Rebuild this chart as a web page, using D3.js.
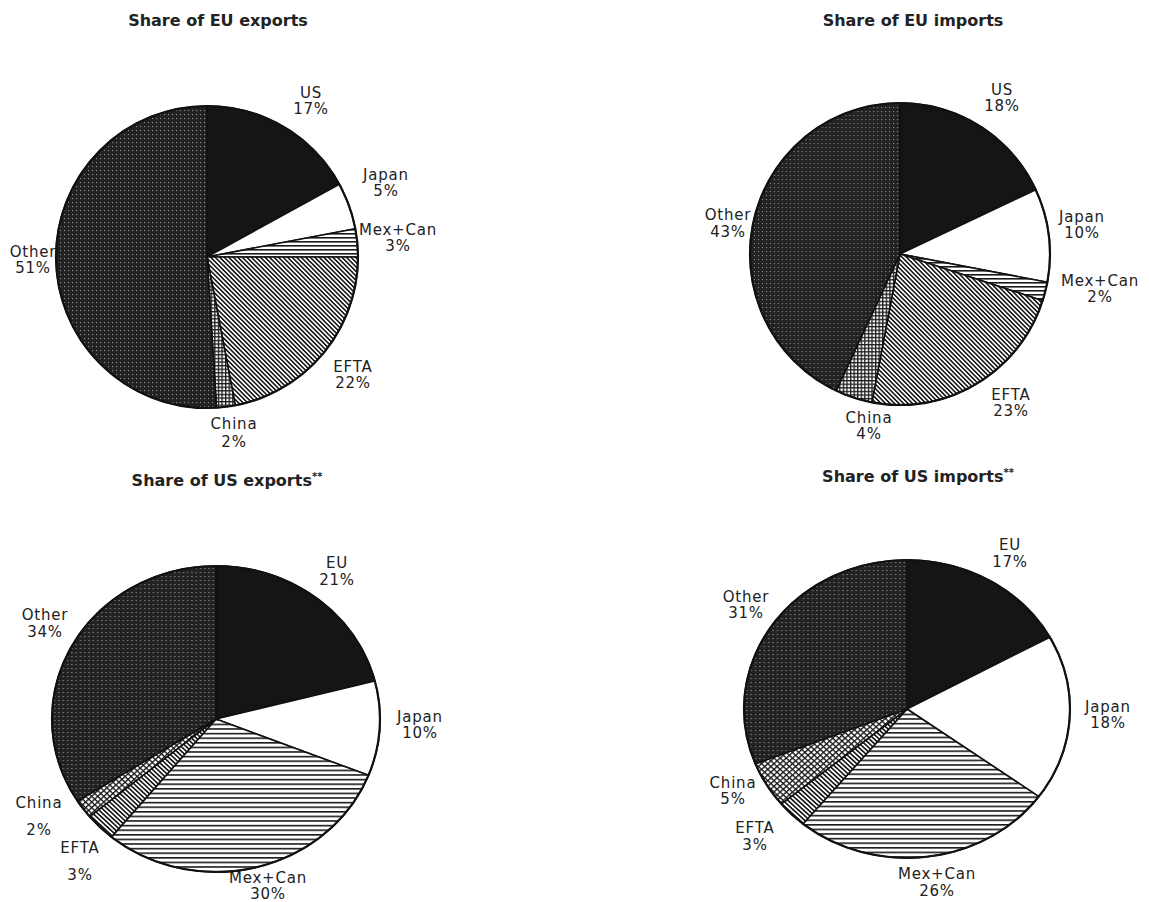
<!DOCTYPE html>
<html>
<head>
<meta charset="utf-8">
<script src="https://cdn.jsdelivr.net/npm/d3@7"></script>
<style>
  body { margin: 0; background: #fff; }
  text { font-family: "DejaVu Sans", sans-serif; fill: #222; }
  .title { font-weight: bold; font-size: 16px; }
  .lbl { font-size: 15px; letter-spacing: 0.8px; }
</style>
</head>
<body>
<svg id="chart" width="1149" height="902"></svg>
<script>
// trade shares, %
var euPartners = ['US', 'Japan', 'Mex+Can', 'EFTA', 'China', 'Other'];
var usPartners = ['EU', 'Japan', 'Mex+Can', 'EFTA', 'China', 'Other'];
var euExports = [17, 5, 3, 22, 2, 51];
var euImports = [18, 10, 2, 23, 4, 43];
var usExports = [21, 10, 30, 3, 2, 34];
var usImports = [17, 18, 26, 3, 5, 31];
var titles = ['Share of EU exports', 'Share of EU imports', 'Share of US exports', 'Share of US imports'];
var starred = [false, false, true, true];

// layout: centre, radii, title spot, label offsets [dx, dy, gap] from centre
var panels = [
  { names: euPartners, values: euExports, cx: 207, cy: 257, rx: 151, ry: 151, tx: 218, ty: 26, china: 'grid', hl: 4,
    offs: [[104, -159, 16], [179, -77, 16], [191, -22, 16], [146, 115, 16], [27, 172, 18], [-174, 0, 16]] },
  { names: euPartners, values: euImports, cx: 900, cy: 254, rx: 150, ry: 151, tx: 913, ty: 26, china: 'grid', hl: 4,
    offs: [[102, -159, 16], [182, -32, 16], [200, 32, 16], [111, 146, 16], [-31, 169, 16], [-172, -34, 17]] },
  { names: usPartners, values: usExports, cx: 216, cy: 719, rx: 164, ry: 153, tx: 227, ty: 486, china: 'diamond', hl: 4.6,
    offs: [[121, -151, 17], [204, 3, 16], [52, 164, 16], [-136, 134, 27], [-177, 89, 27], [-171, -99, 17]] },
  { names: usPartners, values: usImports, cx: 907, cy: 709, rx: 163, ry: 149, tx: 918, ty: 482, china: 'diamond', hl: 4.6,
    offs: [[103, -159, 17], [201, 3, 16], [30, 170, 17], [-152, 124, 17], [-174, 79, 16], [-161, -107, 16]] }
];

var svg = d3.select('#chart');
var defs = svg.append('defs');

// fill patterns imitating the old printer hatching
var p = defs.append('pattern').attr('id', 'dots').attr('patternUnits', 'userSpaceOnUse')
  .attr('width', 4).attr('height', 4);
p.append('rect').attr('width', 4).attr('height', 4).attr('fill', '#222');
p.append('rect').attr('x', 1).attr('y', 1).attr('width', 1.1).attr('height', 1.1).attr('fill', '#8c8c8c');

[4, 4.6].forEach(function(s) {
  var h = defs.append('pattern').attr('id', 'hlines' + s).attr('patternUnits', 'userSpaceOnUse')
    .attr('width', s).attr('height', s);
  h.append('rect').attr('width', s).attr('height', s).attr('fill', '#fff');
  h.append('rect').attr('width', s).attr('height', 1.6).attr('fill', '#1a1a1a');
});

p = defs.append('pattern').attr('id', 'diag').attr('patternUnits', 'userSpaceOnUse')
  .attr('width', 3.2).attr('height', 3.2).attr('patternTransform', 'rotate(45)');
p.append('rect').attr('width', 3.2).attr('height', 3.2).attr('fill', '#fff');
p.append('rect').attr('width', 3.2).attr('height', 1.6).attr('fill', '#1a1a1a');

p = defs.append('pattern').attr('id', 'grid').attr('patternUnits', 'userSpaceOnUse')
  .attr('width', 3.6).attr('height', 3.6);
p.append('rect').attr('width', 3.6).attr('height', 3.6).attr('fill', '#fff');
p.append('rect').attr('width', 3.6).attr('height', 1.3).attr('fill', '#1a1a1a');
p.append('rect').attr('width', 1.3).attr('height', 3.6).attr('fill', '#1a1a1a');

p = defs.append('pattern').attr('id', 'diamond').attr('patternUnits', 'userSpaceOnUse')
  .attr('width', 4).attr('height', 4).attr('patternTransform', 'rotate(45)');
p.append('rect').attr('width', 4).attr('height', 4).attr('fill', '#fff');
p.append('rect').attr('width', 4).attr('height', 1.3).attr('fill', '#1a1a1a');
p.append('rect').attr('width', 1.3).attr('height', 4).attr('fill', '#1a1a1a');

var pie = d3.pie().sort(null).value(function(d) { return d; });

panels.forEach(function(pn, i) {
  var fills = ['#151515', '#fff', 'url(#hlines' + pn.hl + ')', 'url(#diag)', 'url(#' + pn.china + ')', 'url(#dots)'];

  var t = svg.append('text').attr('class', 'title')
    .attr('x', pn.tx).attr('y', pn.ty).attr('text-anchor', 'middle')
    .text(titles[i]);
  if (starred[i]) {
    t.append('tspan').attr('font-size', 10).attr('dy', -6).text('**');
  }

  // labels first, pie over them (the "r" of Other is hidden behind the disc)
  pn.names.forEach(function(name, j) {
    var o = pn.offs[j];
    var g = svg.append('text').attr('class', 'lbl').attr('text-anchor', 'middle');
    g.append('tspan').attr('x', pn.cx + o[0]).attr('y', pn.cy + o[1]).text(name);
    g.append('tspan').attr('x', pn.cx + o[0]).attr('y', pn.cy + o[1] + o[2]).text(pn.values[j] + '%');
  });

  var arc = d3.arc().innerRadius(0).outerRadius(pn.ry);
  var g = svg.append('g')
    .attr('transform', 'translate(' + pn.cx + ',' + pn.cy + ') scale(' + (pn.rx / pn.ry) + ',1)');

  g.selectAll('path')
    .data(pie(pn.values))
    .enter()
    .append('path')
    .attr('d', arc)
    .attr('fill', function(d, j) { return fills[j]; })
    .attr('stroke', '#111')
    .attr('stroke-width', 1.6)
    .attr('stroke-linejoin', 'round')
    .attr('vector-effect', 'non-scaling-stroke');

  g.append('ellipse').attr('rx', pn.ry).attr('ry', pn.ry)
    .attr('fill', 'none').attr('stroke', '#111').attr('stroke-width', 2.2)
    .attr('vector-effect', 'non-scaling-stroke');
});
</script>
</body>
</html>
